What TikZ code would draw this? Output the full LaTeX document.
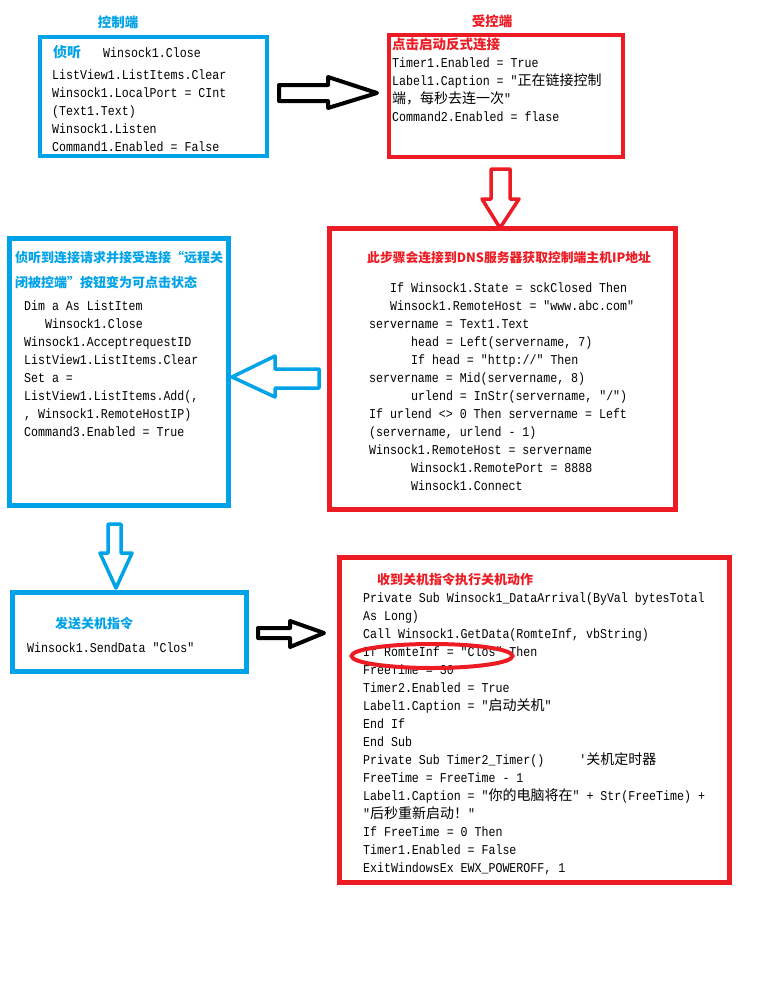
\documentclass[tikz,border=0pt]{standalone}
\usepackage{fontspec}
\newfontfamily\monofnt[FakeStretch=0.86]{Liberation Mono}
\newfontfamily\cjkfnt{Noto Sans CJK SC}
\newcommand\zhtxt[1]{{\cjkfnt\fontsize{14pt}{14pt}\selectfont #1}}
\definecolor{ctlblue}{RGB}{0,162,232}
\definecolor{ctlred}{RGB}{237,28,36}
\begin{document}
\begin{tikzpicture}[x=1pt,y=1pt,
  panel/.style={draw=#1, rectangle, inner sep=0pt, fill=none},
  code/.style={anchor=base west, inner sep=0pt, font=\monofnt\fontsize{13.5pt}{14pt}\selectfont},
  ttl/.style={anchor=base west, inner sep=0pt, text=#1, font=\cjkfnt\bfseries\fontsize{13pt}{16pt}\selectfont},
  blockarrow/.style={draw=#1, fill=white, line join=round}
]
\useasboundingbox[fill=white] (0,0) rectangle (756,-990);

% ---- headings
\node[ttl=ctlblue, anchor=base, font=\cjkfnt\bfseries\fontsize{13.5pt}{16pt}\selectfont] (hctl) at (118,-28) {控制端};
\node[ttl=ctlred, anchor=base, font=\cjkfnt\bfseries\fontsize{13.5pt}{16pt}\selectfont] (hrem) at (492,-27) {受控端};

% ---- box 1: controller listen
\node[panel=ctlblue, line width=4pt, minimum width=227pt, minimum height=119pt] (ctl) at (153.5,-96.5) {};
\node[ttl=ctlblue, font=\cjkfnt\bfseries\fontsize{14pt}{16pt}\selectfont] (ctl-t) at (53,-58) {侦听};
\node[code] (ctl-0) at (103,-57) {Winsock1.Close};
\foreach \t [count=\i] in {
  ListView1.ListItems.Clear,
  Winsock1.LocalPort = CInt,
  (Text1.Text),
  Winsock1.Listen,
  Command1.Enabled = False}
  \node[code] (ctl-\i) at (52,{-79-18*(\i-1)}) {\t};

% ---- box 2: remote start
\node[panel=ctlred, line width=4pt, minimum width=234pt, minimum height=122pt] (rem) at (506,-96) {};
\node[ttl=ctlred, font=\cjkfnt\bfseries\fontsize{13.5pt}{16pt}\selectfont] (rem-t) at (392,-50) {点击启动反式连接};
\foreach \t [count=\i] in {
  Timer1.Enabled = True,
  Label1.Caption = "\zhtxt{正在链接控制},
  \zhtxt{端，每秒去连一次}",
  Command2.Enabled = flase}
  \node[code] (rem-\i) at (392,{-67-18*(\i-1)}) {\t};

% ---- box 3: DNS connect
\node[panel=ctlred, line width=5pt, minimum width=346pt, minimum height=281pt] (dns) at (502.5,-369) {};
\node[ttl=ctlred, font=\cjkfnt\bfseries\fontsize{12.8pt}{16pt}\selectfont] (dns-t) at (367,-262) {此步骤会连接到DNS服务器获取控制端主机IP地址};
\foreach \t [count=\i] in {
  \hspace*{21pt}If Winsock1.State = sckClosed Then,
  \hspace*{21pt}Winsock1.RemoteHost = "www.abc.com",
  servername = Text1.Text,
  {\hspace*{42pt}head = Left(servername, 7)},
  \hspace*{42pt}If head = "http://" Then,
  {servername = Mid(servername, 8)},
  {\hspace*{42pt}urlend = InStr(servername, "/")},
  If urlend <> 0 Then servername = Left,
  {(servername, urlend - 1)},
  Winsock1.RemoteHost = servername,
  \hspace*{42pt}Winsock1.RemotePort = 8888,
  \hspace*{42pt}Winsock1.Connect}
  \node[code] (dns-\i) at (369,{-292-18*(\i-1)}) {\t};

% ---- box 4: accept connection
\node[panel=ctlblue, line width=5pt, minimum width=219pt, minimum height=267pt] (acc) at (119,-372) {};
\node[ttl=ctlblue] (acc-t1) at (15,-262) {侦听到连接请求并接受连接“远程关};
\node[ttl=ctlblue] (acc-t2) at (15,-287) {闭被控端”按钮变为可点击状态};
\foreach \t [count=\i] in {
  Dim a As ListItem,
  \hspace*{21pt}Winsock1.Close,
  Winsock1.AcceptrequestID,
  ListView1.ListItems.Clear,
  Set a =,
  {ListView1.ListItems.Add(,},
  {, Winsock1.RemoteHostIP)},
  Command3.Enabled = True}
  \node[code] (acc-\i) at (24,{-310-18*(\i-1)}) {\t};

% ---- box 5: send shutdown
\node[panel=ctlblue, line width=5pt, minimum width=234pt, minimum height=79pt] (snd) at (129.5,-632) {};
\node[ttl=ctlblue] (snd-t) at (55,-628) {发送关机指令};
\node[code] (snd-1) at (27,-652) {Winsock1.SendData "Clos"};

% ---- box 6: receive shutdown
\node[panel=ctlred, line width=5pt, minimum width=390pt, minimum height=325pt] (off) at (534.5,-720) {};
\node[ttl=ctlred] (off-t) at (377,-584) {收到关机指令执行关机动作};
\foreach \t [count=\i] in {
  Private Sub Winsock1\_DataArrival(ByVal bytesTotal,
  As Long),
  {Call Winsock1.GetData(RomteInf, vbString)},
  If RomteInf = "Clos" Then,
  FreeTime = 30,
  Timer2.Enabled = True,
  Label1.Caption = "\zhtxt{启动关机}",
  End If,
  End Sub,
  Private Sub Timer2\_Timer()\hspace*{35pt}'\zhtxt{关机定时器},
  FreeTime = FreeTime - 1,
  Label1.Caption = "\zhtxt{你的电脑将在}" + Str(FreeTime) +,
  "\zhtxt{后秒重新启动！}",
  If FreeTime = 0 Then,
  Timer1.Enabled = False,
  {ExitWindowsEx EWX\_POWEROFF, 1}}
  \node[code] (off-\i) at (363,{-602-18*(\i-1)}) {\t};
\draw[ctlred, line width=4pt] (432,-656) ellipse [x radius=80.5pt, y radius=12pt];

% ---- block arrows
\draw[blockarrow=black, line width=4pt]
  (279,-85) -- (328,-85) -- (328,-77) -- (377,-93) -- (328,-108) -- (328,-101) -- (279,-101) -- cycle;
\draw[blockarrow=ctlred, line width=3.5pt]
  (491,-169) -- (510,-169) -- (510,-199) -- (519,-199) -- (500,-228) -- (482,-199) -- (491,-199) -- cycle;
\draw[blockarrow=ctlblue, line width=3.5pt]
  (319,-369) -- (275,-369) -- (275,-356) -- (232,-377) -- (275,-397) -- (275,-388) -- (319,-388) -- cycle;
\draw[blockarrow=ctlblue, line width=3.5pt]
  (108,-524) -- (121,-524) -- (121,-553) -- (132,-553) -- (116,-588) -- (100,-553) -- (108,-553) -- cycle;
\draw[blockarrow=black, line width=4pt]
  (258,-628) -- (290,-628) -- (290,-621) -- (324,-633) -- (290,-647) -- (290,-638) -- (258,-638) -- cycle;
\end{tikzpicture}
\end{document}
